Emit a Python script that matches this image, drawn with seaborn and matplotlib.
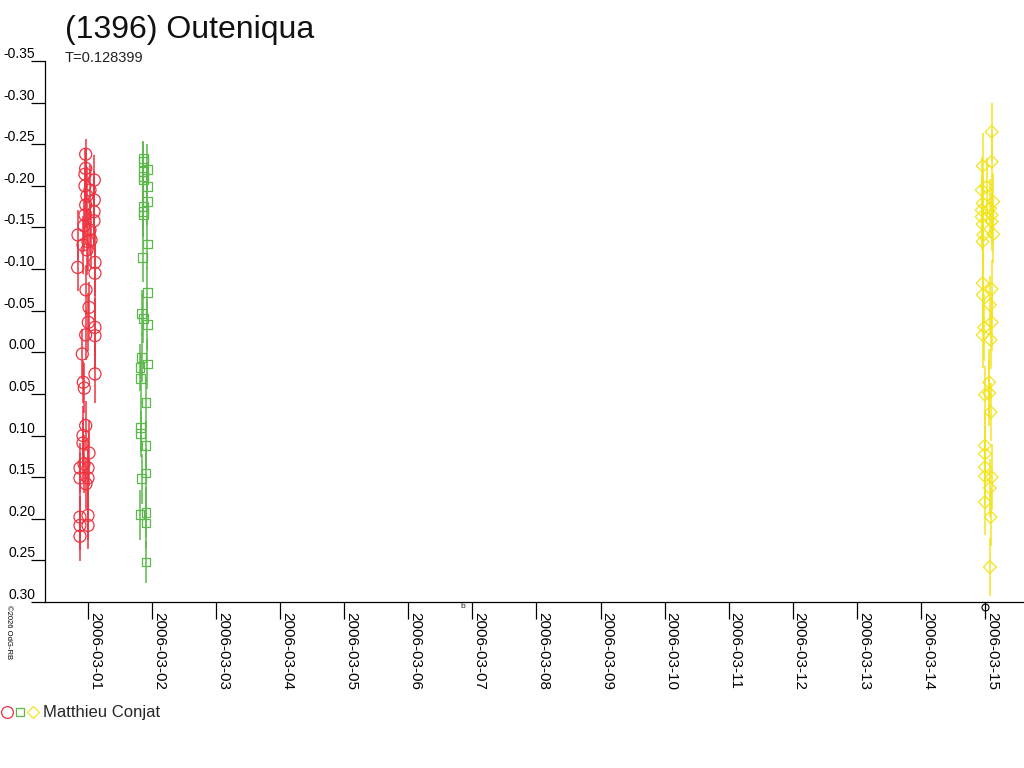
import matplotlib
matplotlib.use("Agg")
import matplotlib.pyplot as plt
import matplotlib.dates as mdates
from matplotlib.legend_handler import HandlerTuple
from matplotlib.lines import Line2D
import numpy as np
import pandas as pd
import seaborn as sns

# Data: day offsets from 2006-03-01 00:00, relative magnitude and error
red_day = [-0.036, -0.036, -0.047, 0.098, -0.047, 0.098, -0.036, 0.094, -0.047, 0.094,
           -0.156, 0.031, 0.000, -0.161, 0.109, 0.109, -0.031, 0.016, 0.005, 0.109,
           -0.036, 0.109, -0.089, 0.109, -0.073, -0.058, -0.036, -0.078, -0.078, 0.016,
           -0.125, 0.000, -0.125, 0.000, -0.125, 0.000, -0.125, 0.000, -0.125, -0.078,
           0.047, -0.016, -0.062, -0.062, -0.031, 0.031, -0.016]
red_mag = [-0.238, -0.221, -0.214, -0.207, -0.200, -0.183, -0.177, -0.169, -0.165, -0.158,
           -0.141, -0.147, -0.133, -0.102, -0.108, -0.095, -0.075, -0.054, -0.036, -0.030,
           -0.021, -0.020, 0.002, 0.026, 0.036, 0.043, 0.088, 0.100, 0.109, 0.121,
           0.139, 0.139, 0.151, 0.151, 0.198, 0.196, 0.208, 0.208, 0.221, -0.129,
           -0.135, -0.123, -0.152, 0.134, 0.158, -0.195, -0.188]
red_err = [0.018, 0.025, 0.030, 0.030, 0.022, 0.035, 0.028, 0.040, 0.025, 0.035,
           0.030, 0.030, 0.035, 0.028, 0.040, 0.035, 0.030, 0.030, 0.035, 0.035,
           0.030, 0.040, 0.030, 0.035, 0.025, 0.030, 0.030, 0.035, 0.030, 0.040,
           0.030, 0.035, 0.030, 0.035, 0.025, 0.030, 0.030, 0.028, 0.030, 0.035,
           0.035, 0.030, 0.030, 0.035, 0.030, 0.030, 0.035]

green_day = [0.863, 0.863, 0.926, 0.863, 0.863, 0.863, 0.926, 0.926, 0.863, 0.863,
             0.863, 0.926, 0.854, 0.926, 0.838, 0.863, 0.926, 0.838, 0.926, 0.812,
             0.823, 0.905, 0.823, 0.823, 0.905, 0.905, 0.838, 0.905, 0.812, 0.905,
             0.905]
green_mag = [-0.233, -0.229, -0.220, -0.217, -0.211, -0.207, -0.199, -0.181, -0.175, -0.169,
             -0.165, -0.130, -0.114, -0.072, -0.047, -0.041, -0.033, 0.006, 0.014, 0.018,
             0.031, 0.060, 0.090, 0.098, 0.112, 0.145, 0.152, 0.192, 0.195, 0.205,
             0.252]
green_err = [0.020, 0.025, 0.030, 0.022, 0.025, 0.020, 0.030, 0.028, 0.025, 0.030,
             0.025, 0.030, 0.030, 0.030, 0.028, 0.030, 0.030, 0.030, 0.030, 0.028,
             0.030, 0.030, 0.030, 0.028, 0.030, 0.030, 0.030, 0.030, 0.030, 0.030,
             0.025]

yellow_day = [14.105, 13.964, 14.105, 13.949, 14.027, 13.964, 14.130, 13.949, 14.078, 13.949,
              14.105, 13.964, 14.105, 13.974, 14.130, 13.964, 13.964, 14.105, 13.964, 14.078,
              13.989, 14.105, 13.964, 14.089, 14.067, 14.000, 14.067, 14.089, 14.000, 14.000,
              14.000, 14.000, 14.105, 14.078, 14.000, 14.089, 14.078]
yellow_mag = [-0.265, -0.224, -0.229, -0.195, -0.199, -0.179, -0.181, -0.171, -0.173, -0.163,
              -0.165, -0.154, -0.157, -0.141, -0.142, -0.133, -0.083, -0.076, -0.069, -0.057,
              -0.030, -0.036, -0.021, -0.015, 0.036, 0.051, 0.049, 0.072, 0.112, 0.122,
              0.138, 0.149, 0.150, 0.163, 0.180, 0.198, 0.258]
yellow_err = [0.035, 0.040, 0.035, 0.040, 0.035, 0.040, 0.035, 0.040, 0.035, 0.040,
              0.035, 0.040, 0.035, 0.040, 0.035, 0.040, 0.040, 0.035, 0.040, 0.035,
              0.040, 0.035, 0.040, 0.035, 0.040, 0.035, 0.040, 0.035, 0.040, 0.035,
              0.040, 0.035, 0.040, 0.035, 0.040, 0.035, 0.035]

tick_dates = pd.date_range("2006-03-01", "2006-03-15", freq="D")
y_ticks = np.round(np.arange(-0.35, 0.301, 0.05), 2) + 0.0

base = pd.Timestamp("2006-03-01")
RED, GREEN, YELLOW = "#ee3340", "#5bb84a", "#f2e41c"

sns.set_style("white")
plt.rcParams["font.family"] = ["Liberation Sans", "DejaVu Sans"]

fig = plt.figure(figsize=(10.24, 7.68), dpi=100)
ax = fig.add_axes([45 / 1024, 166 / 768, 979 / 1024, 541 / 768])

series = [
    (red_day, red_mag, red_err, RED, "o", 75),
    (green_day, green_mag, green_err, GREEN, "s", 40),
    (yellow_day, yellow_mag, yellow_err, YELLOW, "D", 42),
]
for days, mags, errs, col, mk, size in series:
    df = pd.DataFrame({"date": base + pd.to_timedelta(days, unit="D"),
                       "mag": mags, "err": errs})
    ax.errorbar(df["date"], df["mag"], yerr=df["err"], fmt="none",
                ecolor=col, elinewidth=1.1, capsize=0, zorder=2)
    sns.scatterplot(data=df, x="date", y="mag", ax=ax, marker=mk, s=size,
                    facecolor="none", edgecolor=col, linewidth=0.9,
                    zorder=3, legend=False)

# small marker below the axis
ax.plot([pd.Timestamp("2006-03-15")], [0.306], marker="o", ms=5, mfc="none",
        mec="black", mew=0.8, clip_on=False, zorder=4)

ax.set_xlim(base - pd.Timedelta(days=0.671), base + pd.Timedelta(days=14.61))
ax.set_ylim(0.30, -0.35)

ax.set_xticks(tick_dates)
ax.xaxis.set_major_formatter(mdates.DateFormatter("%Y-%m-%d"))
ax.set_yticks(y_ticks)
ax.set_yticklabels([f"{v:.2f}" for v in y_ticks])

for s in ["top", "right"]:
    ax.spines[s].set_visible(False)
for s in ["left", "bottom"]:
    ax.spines[s].set_color("black")
    ax.spines[s].set_linewidth(0.9)

ax.tick_params(axis="y", direction="out", length=10, width=0.9, pad=-3,
               labelsize=10, colors="black", left=True)
ax.tick_params(axis="x", direction="out", length=12, width=0.9, pad=-5,
               labelsize=11, colors="black", bottom=True)
for lab in ax.get_yticklabels():
    lab.set_verticalalignment("bottom")
for lab in ax.get_xticklabels():
    lab.set_rotation(-90)
    lab.set_horizontalalignment("left")
    lab.set_verticalalignment("top")

ax.set_xlabel("")
ax.set_ylabel("")

fig.text(65 / 1024, 1 - 30 / 768, "(1396) Outeniqua", fontsize=23,
         ha="left", va="center", color="#111111")
fig.text(65 / 1024, 1 - 58 / 768, "T=0.128399", fontsize=10.5,
         ha="left", va="center", color="#222222")
fig.text(5 / 1024, 1 - 605 / 768, "©2026 OdG-RB", fontsize=5.5, rotation=-90,
         ha="left", va="top", color="black")
fig.text(463 / 1024, 1 - 607 / 768, "b", fontsize=6, ha="center", va="center")

handles = (
    Line2D([], [], ls="none", marker="o", ms=8.5, mfc="none", mec=RED, mew=0.9),
    Line2D([], [], ls="none", marker="s", ms=6, mfc="none", mec=GREEN, mew=0.9),
    Line2D([], [], ls="none", marker="D", ms=6, mfc="none", mec=YELLOW, mew=0.9),
)
fig.legend([handles], ["Matthieu Conjat"], handler_map={tuple: HandlerTuple(ndivide=None, pad=0.1)},
           loc="center left", bbox_to_anchor=(0, 1 - 713 / 768), frameon=False,
           fontsize=12, handlelength=2.2, handletextpad=0.3, borderaxespad=0, borderpad=0.1)

fig.savefig("out.png", dpi=100)
